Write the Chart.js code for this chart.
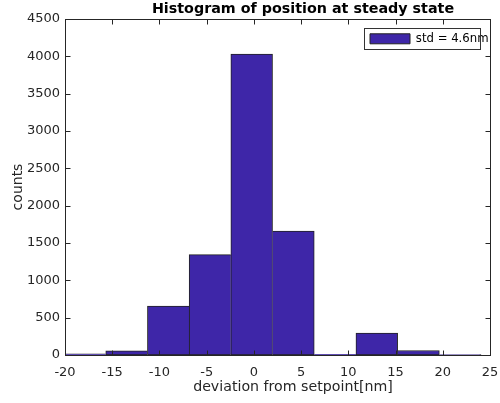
<!DOCTYPE html>
<html>
<head>
<meta charset="utf-8">
<script src="https://cdn.jsdelivr.net/npm/chart.js@4.4.1/dist/chart.umd.min.js"></script>
<style>
  html, body { margin: 0; padding: 0; background: #fff; }
  #wrap { width: 500px; height: 403px; }
</style>
</head>
<body>
<div id="wrap"><canvas id="c" width="500" height="403"></canvas></div>
<script>
// ---- data ----
const binCenters = [-17.893, -13.478, -9.063, -4.648, -0.233, 4.183, 8.598, 13.013, 17.428, 21.843];
const counts = [15, 55, 655, 1345, 4030, 1660, 10, 295, 60, 6];
const xTickValues = [-20, -15, -10, -5, 0, 5, 10, 15, 20, 25];
const yTickValues = [0, 500, 1000, 1500, 2000, 2500, 3000, 3500, 4000, 4500];
const seriesLabel = 'std = 4.6nm';
const chartTitle = 'Histogram of position at steady state';
const xTitle = 'deviation from setpoint[nm]';
const yTitle = 'counts';

const AXIS = '#262626';
const BAR = 'rgb(62,38,168)';

Chart.defaults.font.family = "'DejaVu Sans', sans-serif";
Chart.defaults.color = AXIS;

const framePlugin = {
  id: 'frame',
  afterLayout(chart) {
    const a = chart.chartArea;
    const mid = (a.left + a.right) / 2;
    chart.boxes.forEach(b => {
      if (!b.options || b.options.text === undefined) return;
      if (b.options.text === chartTitle) {
        const c = mid + 25.5, half = (b.right - b.left) / 2;
        b.left = c - half; b.right = c + half;
      } else if (b.options.text === xTitle) {
        const c = mid + 15.5, half = (b.right - b.left) / 2;
        b.left = c - half; b.right = c + half;
      }
    });
    const lg = chart.legend;
    if (lg) {
      const w = lg.width, h = lg.height;
      lg.left = a.right - 130; lg.right = lg.left + w;
      lg.top = a.top + 4; lg.bottom = lg.top + h;
    }
  },
  afterDraw(chart) {
    const {ctx, chartArea: a, scales: {x, y}} = chart;
    ctx.save();
    ctx.strokeStyle = AXIS;
    ctx.lineWidth = 1;
    const L = Math.round(a.left) + 0.5, R = Math.round(a.right) + 0.5;
    const T = Math.round(a.top) + 0.5, B = Math.round(a.bottom) + 0.5;
    ctx.strokeRect(L, T, R - L, B - T);
    const tl = 5;
    ctx.beginPath();
    xTickValues.forEach(v => {
      const px = Math.round(x.getPixelForValue(v)) + 0.5;
      ctx.moveTo(px, B); ctx.lineTo(px, B - tl);
      ctx.moveTo(px, T); ctx.lineTo(px, T + tl);
    });
    yTickValues.forEach(v => {
      const py = Math.round(y.getPixelForValue(v)) + 0.5;
      ctx.moveTo(L, py); ctx.lineTo(L + tl, py);
      ctx.moveTo(R, py); ctx.lineTo(R - tl, py);
    });
    ctx.stroke();
    // legend border
    const lg = chart.legend;
    if (lg && lg.legendHitBoxes && lg.legendHitBoxes.length) {
      const hb = lg.legendHitBoxes[0];
      const bx = Math.round(hb.left - 6) + 0.5;
      const br = Math.round(a.right - 10) + 0.5;
      const cy = hb.top + hb.height / 2;
      const by = Math.round(cy - 10.5) + 0.5;
      ctx.strokeStyle = '#333';
      ctx.strokeRect(bx, by, br - bx, 21);
    }
    ctx.restore();
  }
};

const n = counts.length;
new Chart(document.getElementById('c'), {
  type: 'bar',
  data: {
    datasets: [{
      label: seriesLabel,
      data: binCenters.map((cx, i) => ({x: cx, y: counts[i]})),
      backgroundColor: BAR,
      borderColor: '#222',
      borderSkipped: false,
      borderWidth: (ctx) => {
        const i = ctx.dataIndex;
        if (i === undefined) return 1;
        return {
          top: 1,
          bottom: 1,
          left: (i === 0 || counts[i] > counts[i - 1]) ? 1 : 0,
          right: (i === n - 1 || counts[i] >= counts[i + 1]) ? 1 : 0
        };
      },
      barPercentage: 1,
      categoryPercentage: 1
    }]
  },
  options: {
    responsive: false,
    animation: false,
    layout: { padding: { left: 0, right: 10, top: 0, bottom: 0 } },
    plugins: {
      title: {
        display: true,
        text: chartTitle,
        color: '#000',
        font: { size: 14.3, weight: 'bold' },
        padding: { top: 1, bottom: 0.8 }
      },
      subtitle: {
        display: true,
        position: 'bottom',
        text: xTitle,
        color: AXIS,
        font: { size: 14.2, weight: 'normal' },
        padding: { top: 0, bottom: 7.3 }
      },
      legend: {
        display: true,
        position: 'chartArea',
        align: 'start',
        labels: {
          boxWidth: 40,
          boxHeight: 10,
          padding: 10,
          color: '#000',
          font: { size: 11.7 },
          generateLabels: (chart) =>
            Chart.defaults.plugins.legend.labels.generateLabels(chart).map(l => ({...l, lineWidth: 1, strokeStyle: '#222'}))
        }
      },
      tooltip: { enabled: false }
    },
    scales: {
      x: {
        type: 'linear',
        min: -20,
        max: 25,
        offset: false,
        grid: { display: false, offset: false, drawTicks: false },
        border: { display: false },
        afterBuildTicks: (s) => { s.ticks = xTickValues.map(v => ({value: v})); },
        afterFit: (s) => { s.height = 23.66; s.paddingLeft = 0; s.paddingRight = 0; s.paddingTop = 0; s.paddingBottom = 0; },
        ticks: { color: AXIS, font: { size: 13 }, padding: 10, maxRotation: 0, autoSkip: false,
                 callback: (v) => String(v) }
      },
      y: {
        type: 'linear',
        min: 0,
        max: 4500,
        grid: { display: false, drawTicks: false },
        border: { display: false },
        afterBuildTicks: (s) => { s.ticks = yTickValues.map(v => ({value: v})); },
        afterFit: (s) => { s.width = 65; s.paddingTop = 0; s.paddingBottom = 0; s.paddingLeft = 0; s.paddingRight = 0; },
        title: { display: true, text: yTitle, color: AXIS, font: { size: 14 }, padding: { top: 10, bottom: 0 } },
        ticks: { color: AXIS, font: { size: 13 }, padding: 5, autoSkip: false,
                 callback: (v) => String(v) }
      }
    }
  },
  plugins: [framePlugin]
});
</script>
</body>
</html>
